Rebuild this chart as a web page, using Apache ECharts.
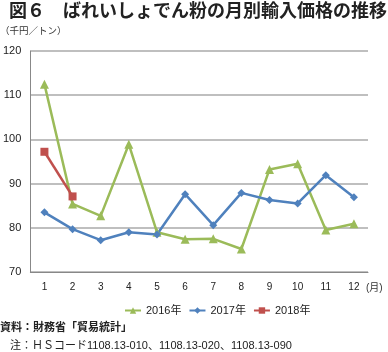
<!DOCTYPE html>
<html>
<head>
    <meta charset="utf-8">
    <title>ばれいしょでん粉の月別輸入価格の推移</title>
    <script src="https://cdn.jsdelivr.net/npm/echarts@6/dist/echarts.min.js"></script>
    <style>
        body { margin: 0; background: #fff; }
        #main { width: 388px; height: 352px; }
    </style>
</head>
<body>
    <div id="main"></div>
    <script type="text/javascript">
        var months = ['1', '2', '3', '4', '5', '6', '7', '8', '9', '10', '11', '12'];
        var names = ['2016年', '2017年', '2018年'];
        var v2016 = [112.5, 85.4, 82.7, 98.9, 79.0, 77.4, 77.5, 75.2, 93.2, 94.5, 79.5, 80.9];
        var v2017 = [83.5, 79.7, 77.2, 79.0, 78.5, 87.6, 80.6, 87.9, 86.3, 85.5, 91.9, 86.9];
        var v2018 = [97.2, 87.1];

        var jp = "'Liberation Sans', 'Noto Sans CJK JP', sans-serif";
        var myChart = echarts.init(document.getElementById('main'));

        function line(name, data, color, symbol) {
            return {
                name: name,
                type: 'line',
                data: data,
                symbol: symbol,
                symbolSize: symbol == 'triangle' ? 9 : 8,
                lineStyle: { color: color, width: 2.5 },
                itemStyle: { color: color },
                animation: false
            };
        }

        var option = {
            title: {
                text: '図６　ばれいしょでん粉の月別輸入価格の推移',
                left: 4, top: -2,
                textStyle: { fontFamily: jp, fontSize: 18, fontWeight: 'bold', color: '#222' }
            },
            grid: { left: 30, right: 20, top: 51, bottom: 80 },
            legend: {
                data: names,
                left: 119,
                top: 300,
                itemWidth: 16,
                itemHeight: 8,
                itemGap: 7,
                textStyle: { fontFamily: jp, fontSize: 11, color: '#222' }
            },
            xAxis: {
                type: 'category',
                data: months,
                axisLine: { lineStyle: { color: '#888', width: 1 } },
                axisTick: { show: false },
                axisLabel: { fontFamily: jp, fontSize: 10, color: '#222', margin: 10 }
            },
            yAxis: {
                type: 'value',
                min: 70, max: 120, interval: 10,
                axisLine: { show: true, lineStyle: { color: '#888', width: 1 } },
                axisLabel: { fontFamily: jp, fontSize: 11, color: '#222', margin: 9 },
                splitLine: { lineStyle: { color: '#aaa', width: 1.5 } }
            },
            graphic: [
                { type: 'text', left: 0, top: 27, style: { text: '（千円／トン）', font: '9.5px ' + jp, fill: '#333' } },
                { type: 'text', left: 366, top: 283, style: { text: '(月)', font: '10px ' + jp, fill: '#333' } },
                { type: 'text', left: 0, top: 322, style: { text: '資料：財務省「貿易統計」', font: 'bold 11px ' + jp, fill: '#222' } },
                { type: 'text', left: 10, top: 340, style: { text: '注：ＨＳコード1108.13-010、1108.13-020、1108.13-090', font: '11px ' + jp, fill: '#222' } }
            ],
            series: [
                line(names[0], v2016, '#9BBB59', 'triangle'),
                line(names[1], v2017, '#4F81BD', 'diamond'),
                line(names[2], v2018, '#C0504D', 'rect')
            ]
        };
        myChart.setOption(option);
    </script>
</body>
</html>
